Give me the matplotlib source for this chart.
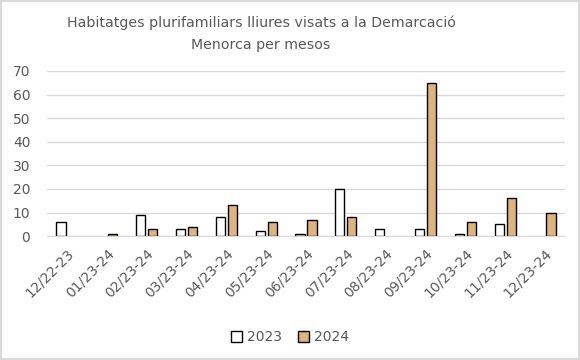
import numpy as np
import matplotlib
matplotlib.use('Agg')
import matplotlib.pyplot as plt
from matplotlib.patches import Rectangle

# dades
months = ['12/22-23', '01/23-24', '02/23-24', '03/23-24', '04/23-24', '05/23-24', '06/23-24',
          '07/23-24', '08/23-24', '09/23-24', '10/23-24', '11/23-24', '12/23-24']
v2023 = [6, 0, 9, 3, 8, 2, 1, 20, 3, 3, 1, 5, 0]
v2024 = [0, 1, 3, 4, 13, 6, 7, 8, 0, 65, 6, 16, 10]

gray = '#595959'
plt.rcParams['font.family'] = ['DejaVu Sans']

fig = plt.figure(figsize=(5.8, 3.6), dpi=100)
ax = fig.add_axes([0.081, 0.344, 0.893, 0.459])

x = np.arange(len(months))
w = 0.23
# zeros are not drawn as bars
a = np.array(v2023, dtype=float)
b = np.array(v2024, dtype=float)
a[a == 0] = np.nan
b[b == 0] = np.nan
ax.bar(x - 0.15, a, w, color='white', edgecolor='black', linewidth=1, label='2023', zorder=3)
ax.bar(x + 0.15, b, w, color='#deb47c', edgecolor='black', linewidth=1, label='2024', zorder=3)

ax.set_xlim(-0.5, len(months) - 0.5)
ax.set_ylim(0, 70)
ax.set_yticks(range(0, 71, 10))
ax.yaxis.grid(True, color='#d9d9d9', linewidth=1, zorder=0)
ax.set_axisbelow(True)

for s in ['top', 'right', 'left']:
    ax.spines[s].set_visible(False)
ax.spines['bottom'].set_color('#d9d9d9')
ax.spines['bottom'].set_zorder(4)

ax.set_xticks(x)
ax.set_xticklabels(months, rotation=45, ha='right', rotation_mode='anchor')
ax.tick_params(axis='both', length=0, colors=gray, labelsize=10)
ax.tick_params(axis='y', pad=12)
ax.tick_params(axis='x', pad=7)

fig.text(0.45, 0.907, 'Habitatges plurifamiliars lliures visats a la Demarcació\nMenorca per mesos',
         ha='center', va='center', color=gray, fontsize=10.2, linespacing=1.7)

ax.legend(loc='center', bbox_to_anchor=(0.5, 0.063), bbox_transform=fig.transFigure, ncol=2,
          frameon=False, fontsize=10, labelcolor=gray, handlelength=0.8, handleheight=0.8,
          handletextpad=0.3, columnspacing=1.2)

fig.patches.append(Rectangle((0.002, 0.003), 0.996, 0.994, transform=fig.transFigure,
                             fill=False, edgecolor='#d9d9d9', linewidth=1.5))

fig.savefig('out.png', dpi=100)
